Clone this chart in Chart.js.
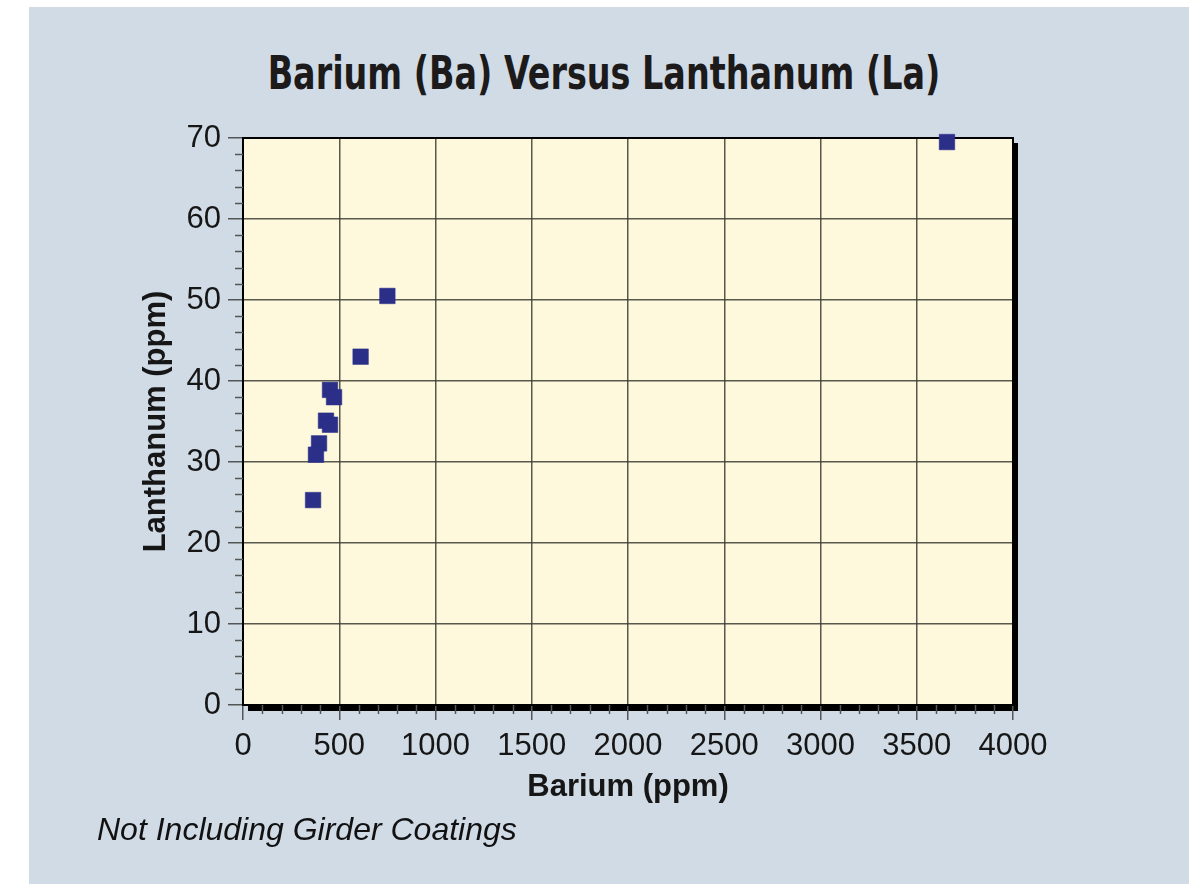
<!DOCTYPE html>
<html>
<head>
<meta charset="utf-8">
<script src="https://cdn.jsdelivr.net/npm/chart.js@4/dist/chart.umd.min.js"></script>
<style>
  html, body { margin: 0; padding: 0; background: #ffffff; overflow: hidden; width: 1189px; height: 884px; }
  #panel { position: absolute; left: 29px; top: 7px; width: 1160px; height: 877px; background: #d0dbe6; }
  #title { position: absolute; left: 104px; top: 49px; width: 1000px; text-align: center;
           font-family: "Liberation Sans Narrow", "DejaVu Sans Condensed", "Liberation Sans", sans-serif;
           font-weight: bold; font-size: 47px; line-height: 47px; color: #1c1a1a; white-space: nowrap;
           transform: scaleX(0.79); transform-origin: 500px 0; }
  #note { position: absolute; left: 97px; top: 813px; font-family: "Liberation Sans", Arial, sans-serif;
          font-style: italic; font-size: 32px; line-height: 32px; color: #111; white-space: nowrap; }
  #chart { position: absolute; left: 0; top: 0; }
</style>
</head>
<body>
<div id="panel"></div>
<div id="title">Barium (Ba) Versus Lanthanum (La)</div>
<canvas id="chart" width="1189" height="884"></canvas>
<div id="note">Not Including Girder Coatings</div>
<script>
// ---- Data ----
const bariumPpm    = [3657, 750, 611, 452, 473, 431, 452, 395, 379, 364];
const lanthanumPpm = [69.5, 50.5, 43.0, 38.9, 38.0, 35.1, 34.6, 32.3, 30.9, 25.3];

// ---- Axis ranges / ticks ----
const xRange = [0, 4000];
const xMajorStep = 500;
const xMinorStep = 100;
const yRange = [0, 70];
const yMajorStep = 10;
const yMinorStep = 2;

const xTitle = 'Barium (ppm)';
const yTitle = 'Lanthanum (ppm)';

// ---- Styles ----
const pointColor = '#2b2f88';
const plotBg = '#fef9dd';
const gridColor = 'rgba(60,60,52,0.85)';
const tickColor = '#555555';
const textColor = '#161616';
const fontFamily = '"Liberation Sans", Arial, Helvetica, sans-serif';

const points = bariumPpm.map((b, i) => ({ x: b, y: lanthanumPpm[i] }));

const framePlugin = {
  id: 'frame',
  beforeDraw(chart) {
    const { ctx, chartArea: a } = chart;
    ctx.save();
    ctx.fillStyle = '#000000';
    ctx.fillRect(a.left + 5, a.top + 5, a.right - a.left, a.bottom - a.top + 1);
    ctx.fillStyle = plotBg;
    ctx.fillRect(a.left, a.top, a.right - a.left, a.bottom - a.top);
    ctx.restore();
  },
  beforeDatasetsDraw(chart) {
    const { ctx, chartArea: a } = chart;
    ctx.save();
    ctx.strokeStyle = '#000000';
    ctx.lineWidth = 2;
    ctx.strokeRect(a.left, a.top, a.right - a.left, a.bottom - a.top);
    ctx.restore();
  },
  afterDraw(chart) {
    const { ctx, chartArea: a, scales: { x, y } } = chart;
    ctx.save();
    ctx.strokeStyle = tickColor;
    ctx.lineWidth = 1.5;
    ctx.beginPath();
    for (let v = yRange[0]; v <= yRange[1]; v += yMinorStep) {
      if (v % yMajorStep === 0) continue;
      const py = Math.round(y.getPixelForValue(v)) + 0.5;
      ctx.moveTo(a.left - 8, py); ctx.lineTo(a.left, py);
    }
    for (let v = xRange[0]; v <= xRange[1]; v += xMinorStep) {
      if (v % xMajorStep === 0) continue;
      const px = Math.round(x.getPixelForValue(v)) + 0.5;
      ctx.moveTo(px, a.bottom); ctx.lineTo(px, a.bottom + 9);
    }
    ctx.stroke();
    ctx.restore();
  }
};

new Chart(document.getElementById('chart'), {
  type: 'scatter',
  data: {
    datasets: [{
      data: points,
      pointStyle: 'rect',
      pointRadius: 11,
      pointBorderWidth: 0.5,
      backgroundColor: pointColor,
      borderColor: pointColor,
      clip: false
    }]
  },
  options: {
    responsive: false,
    devicePixelRatio: 1,
    animation: false,
    layout: { padding: { left: 100, right: 176, top: 138, bottom: 60 } },
    plugins: { legend: { display: false }, tooltip: { enabled: false }, title: { display: false } },
    scales: {
      x: {
        type: 'linear',
        min: xRange[0], max: xRange[1],
        ticks: { stepSize: xMajorStep, padding: 8, color: textColor, font: { family: fontFamily, size: 31 },
                 callback: v => String(v) },
        grid: { color: gridColor, lineWidth: 1.5, tickLength: 15, tickColor: tickColor },
        border: { display: false },
        title: { display: true, text: xTitle, color: textColor, padding: { top: 0, bottom: 18 },
                 font: { family: fontFamily, size: 31, weight: 'bold' } },
        afterFit(s) { s.height = 119; }
      },
      y: {
        type: 'linear',
        min: yRange[0], max: yRange[1],
        ticks: { stepSize: yMajorStep, padding: 7, color: textColor, font: { family: fontFamily, size: 31 },
                 callback: v => String(v) },
        grid: { color: gridColor, lineWidth: 1.5, tickLength: 15, tickColor: tickColor },
        border: { display: false },
        title: { display: true, text: yTitle, color: textColor, padding: { top: 38, bottom: 0 },
                 font: { family: fontFamily, size: 31, weight: 'bold' } },
        afterFit(s) { s.width = 143; }
      }
    }
  },
  plugins: [framePlugin]
});
</script>
</body>
</html>
